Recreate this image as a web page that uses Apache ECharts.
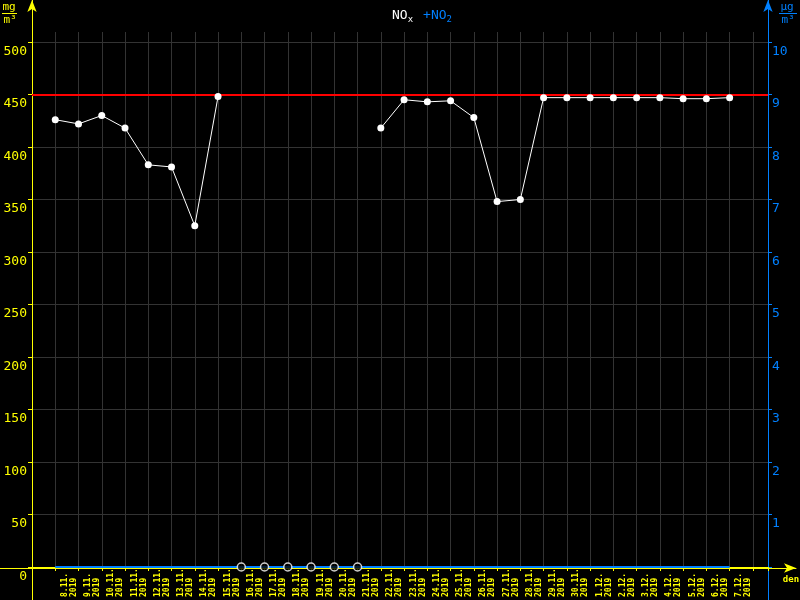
<!DOCTYPE html>
<html>
<head>
<meta charset="utf-8">
<style>
  html, body { margin: 0; background: #000; }
  #chart { width: 800px; height: 600px; }
</style>
<script src="https://cdn.jsdelivr.net/npm/echarts@6/dist/echarts.min.js"></script>
</head>
<body>
<div id="chart"></div>
<script>
// dny na ose x
const days = ['8.11.', '9.11.', '10.11.', '11.11.', '12.11.', '13.11.', '14.11.', '15.11.',
  '16.11.', '17.11.', '18.11.', '19.11.', '20.11.', '21.11.', '22.11.', '23.11.', '24.11.',
  '25.11.', '26.11.', '27.11.', '28.11.', '29.11.', '30.11.', '1.12.', '2.12.', '3.12.',
  '4.12.', '5.12.', '6.12.', '7.12.']
const yearLabel = '2019'

// NOx (mg/m3), null = chybi data
const nox = [426, 422, 430, 418, 383, 381, 325, 448, null, null, null, null, null, null,
  418, 445, 443, 444, 428, 348, 350, 447, 447, 447, 447, 447, 447, 446, 446, 447]
// NO2 (ug/m3)
const no2 = [0, 0, 0, 0, 0, 0, 0, 0, 0, 0, 0, 0, 0, 0, 0, 0, 0, 0, 0, 0, 0, 0, 0, 0, 0, 0, 0, 0, 0, 0]
const noxLimit = 450

const leftMax = 500, leftStep = 50
const rightMax = 10, rightStep = 1

const YELLOW = '#ffff00'
const BLUE = '#0080ff'
const GRID = '#333333'
const MONO = 'DejaVu Sans Mono'

const xMin = -1, xMax = 30.65

const noxData = nox.map((v, i) => [i, v])
const no2Data = no2.map((v, i) => [i, v])
// prazdne krouzky tam, kde NOx chybi
const gapData = nox.map((v, i) => (v === null ? [i, no2[i]] : [i, null]))

const hidden = { show: false }

const dayFormatter = (v) => {
  const i = Math.round(v)
  if (Math.abs(v - i) > 1e-6 || i < 0 || i >= days.length) return ''
  return days[i] + '\n' + yearLabel
}

const chart = echarts.init(document.getElementById('chart'))

chart.setOption({
  backgroundColor: '#000',
  animation: false,
  title: {
    text: '{w|NO}{ws|x}  {b|+NO}{bs|2}',
    left: 387,
    top: 2,
    textStyle: {
      fontWeight: 'normal',
      rich: {
        w: { color: '#fff', fontFamily: MONO, fontWeight: 'normal', fontSize: 13, lineHeight: 14 },
        ws: { color: '#fff', fontFamily: MONO, fontWeight: 'normal', fontSize: 9, padding: [8, 0, 0, 0], lineHeight: 14 },
        b: { color: BLUE, fontFamily: MONO, fontWeight: 'normal', fontSize: 13, lineHeight: 14 },
        bs: { color: BLUE, fontFamily: MONO, fontWeight: 'normal', fontSize: 9, padding: [8, 0, 0, 0], lineHeight: 14 }
      }
    }
  },
  grid: [
    { left: 32, right: 32, top: 42, bottom: 32 },   // data
    { left: 32, right: 32, top: 32, bottom: 32 },   // svisla mrizka
    { left: 32, right: 32, top: 0, bottom: 0 },     // osy y se sipkou
    { left: 0, right: 4, top: 0, bottom: 32 }       // osa x se sipkou
  ],
  xAxis: [
    {
      gridIndex: 0, type: 'value', min: xMin, max: xMax, interval: 1,
      axisLine: { onZero: false, lineStyle: { color: YELLOW, width: 1 } },
      axisTick: { show: true, length: 4, lineStyle: { color: YELLOW } },
      splitLine: hidden,
      axisLabel: {
        formatter: dayFormatter,
        rotate: 90,
        align: 'left',
        verticalAlign: 'top',
        margin: 30,
        padding: [5, 0, 0, 0],
        color: YELLOW,
        fontFamily: MONO,
        fontWeight: 'bold',
        fontSize: 8,
        lineHeight: 9,
        showMinLabel: true,
        showMaxLabel: true
      }
    },
    {
      gridIndex: 1, type: 'value', min: xMin, max: xMax, interval: 1,
      axisLine: hidden, axisTick: hidden, axisLabel: hidden,
      splitLine: { show: true, lineStyle: { color: GRID, width: 1 } }
    },
    { gridIndex: 2, type: 'value', show: false, min: 0, max: 1 },
    {
      gridIndex: 3, type: 'value', min: 0, max: 1,
      axisLine: { onZero: false, lineStyle: { color: YELLOW }, symbol: ['none', 'arrow'], symbolSize: [7, 12] },
      axisTick: hidden, axisLabel: hidden, splitLine: hidden
    }
  ],
  yAxis: [
    {
      gridIndex: 0, type: 'value', min: 0, max: leftMax, interval: leftStep,
      position: 'left',
      axisLine: { show: true, onZero: false, lineStyle: { color: YELLOW } },
      axisTick: { show: true, length: 4, lineStyle: { color: YELLOW } },
      splitLine: { show: true, lineStyle: { color: GRID, width: 1 } },
      axisLabel: {
        color: YELLOW, fontFamily: MONO, fontSize: 13, margin: 5,
        verticalAlign: 'top', padding: [3, 0, 0, 0]
      }
    },
    {
      gridIndex: 0, type: 'value', min: 0, max: rightMax, interval: rightStep,
      position: 'right',
      axisLine: { show: true, onZero: false, lineStyle: { color: BLUE } },
      axisTick: { show: true, length: 4, lineStyle: { color: BLUE } },
      splitLine: hidden,
      axisLabel: {
        color: BLUE, fontFamily: MONO, fontSize: 13, margin: 4,
        verticalAlign: 'top', padding: [3, 0, 0, 0],
        formatter: (v) => (v === 0 ? '' : v)
      }
    },
    { gridIndex: 1, type: 'value', show: false, min: 0, max: 1 },
    {
      gridIndex: 2, type: 'value', min: 0, max: 1, position: 'left',
      axisLine: { show: true, onZero: false, lineStyle: { color: YELLOW }, symbol: ['none', 'arrow'], symbolSize: [7, 12] },
      axisTick: hidden, axisLabel: hidden, splitLine: hidden
    },
    {
      gridIndex: 2, type: 'value', min: 0, max: 1, position: 'right',
      axisLine: { show: true, onZero: false, lineStyle: { color: BLUE }, symbol: ['none', 'arrow'], symbolSize: [7, 12] },
      axisTick: hidden, axisLabel: hidden, splitLine: hidden
    },
    { gridIndex: 3, type: 'value', show: false, min: 0, max: 1 }
  ],
  graphic: [
    { type: 'text', x: 9, y: 2, style: { text: 'mg', fill: YELLOW, font: '11px ' + MONO, textAlign: 'center' } },
    { type: 'line', shape: { x1: 2, y1: 13.5, x2: 17, y2: 13.5 }, style: { stroke: YELLOW, lineWidth: 1 } },
    { type: 'text', x: 10, y: 15, style: { text: 'm³', fill: YELLOW, font: '11px ' + MONO, textAlign: 'center' } },
    { type: 'text', x: 787, y: 2, style: { text: 'µg', fill: BLUE, font: '11px ' + MONO, textAlign: 'center' } },
    { type: 'line', shape: { x1: 779, y1: 13.5, x2: 797, y2: 13.5 }, style: { stroke: BLUE, lineWidth: 1 } },
    { type: 'text', x: 788, y: 15, style: { text: 'm³', fill: BLUE, font: '11px ' + MONO, textAlign: 'center' } },
    { type: 'text', x: 791, y: 575, style: { text: 'den', fill: YELLOW, font: 'bold 9px ' + MONO, textAlign: 'center' } }
  ],
  series: [
    {
      name: 'NO2',
      type: 'line',
      xAxisIndex: 0, yAxisIndex: 1,
      data: no2Data,
      showSymbol: false,
      lineStyle: { color: BLUE, width: 2 },
      z: 3
    },
    {
      name: 'NO2 gap',
      type: 'scatter',
      xAxisIndex: 0, yAxisIndex: 1,
      data: gapData,
      symbol: 'circle',
      symbolSize: 8,
      itemStyle: { color: '#000', borderColor: '#fff', borderWidth: 1.5 },
      z: 4
    },
    {
      name: 'NOx',
      type: 'line',
      xAxisIndex: 0, yAxisIndex: 0,
      data: noxData,
      connectNulls: false,
      symbol: 'circle',
      symbolSize: 7,
      itemStyle: { color: '#fff' },
      lineStyle: { color: '#fff', width: 1 },
      z: 5,
      markLine: {
        silent: true,
        symbol: ['none', 'none'],
        label: { show: false },
        lineStyle: { color: '#ff0000', width: 2, type: 'solid' },
        data: [{ yAxis: noxLimit }]
      }
    }
  ]
})
</script>
</body>
</html>
